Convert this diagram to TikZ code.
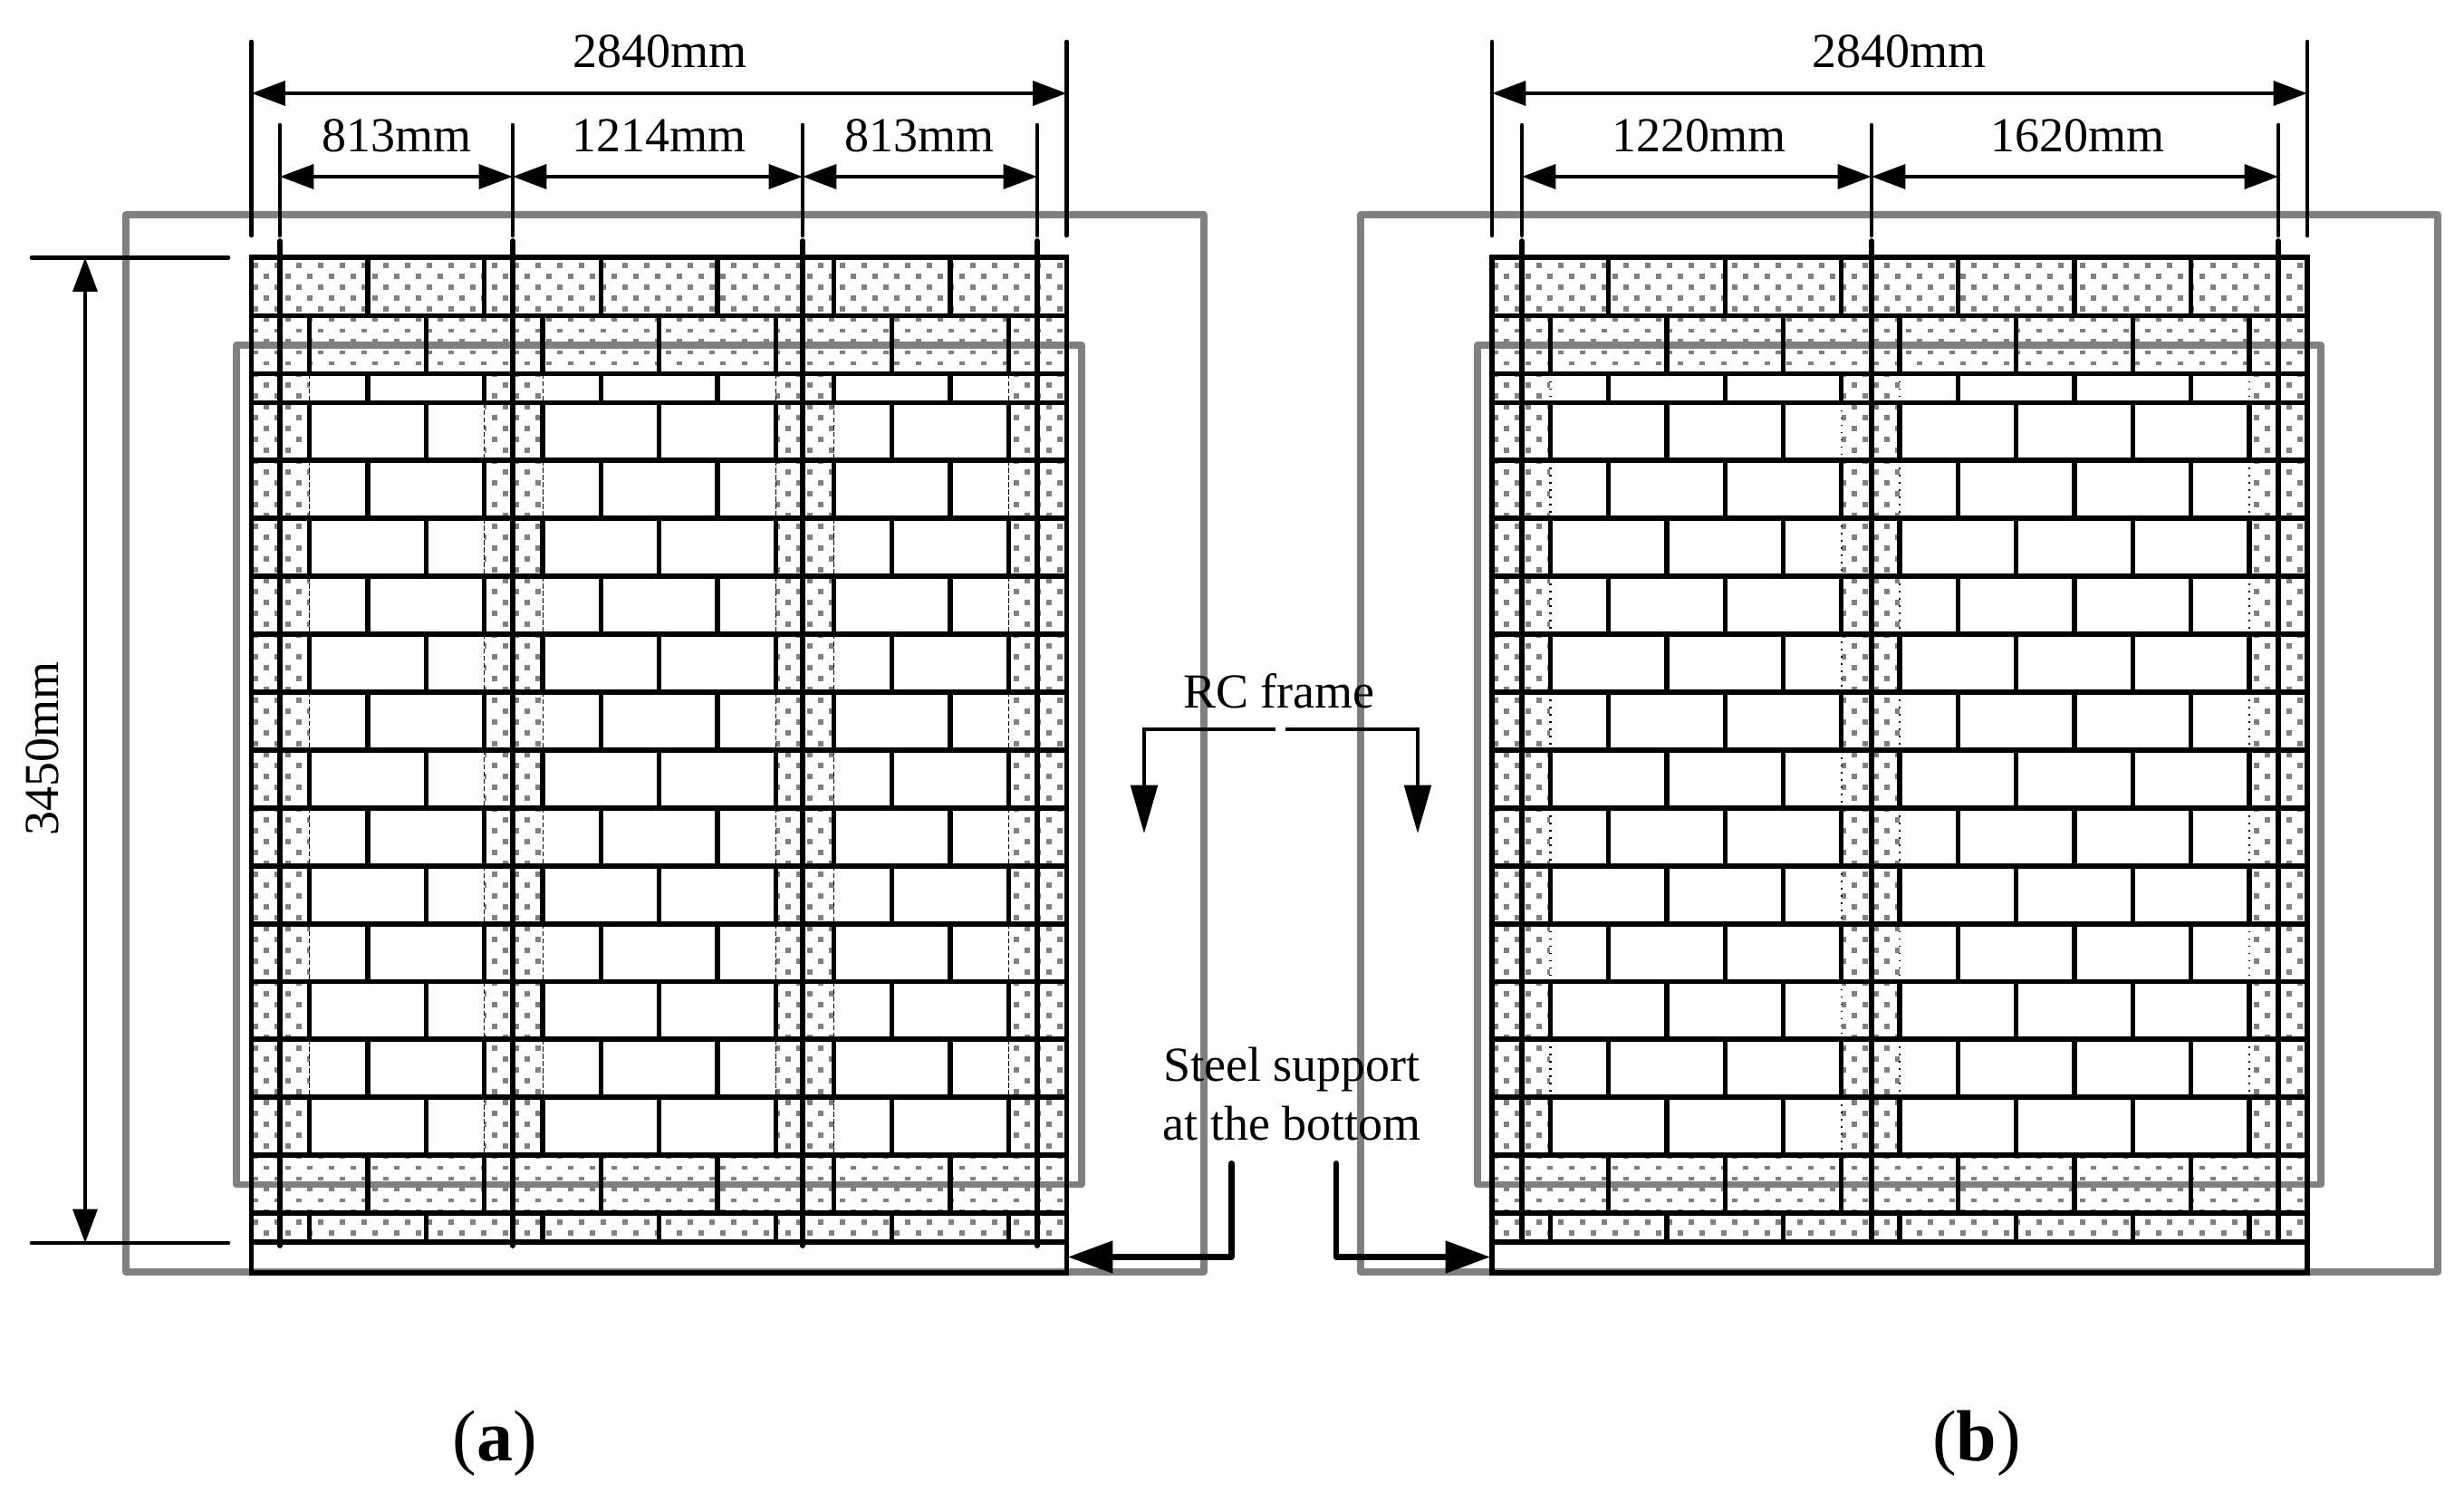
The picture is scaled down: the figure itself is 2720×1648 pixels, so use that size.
\documentclass[tikz,border=0pt]{standalone}
\usepackage{fontspec}
\setmainfont{Liberation Serif}
\usetikzlibrary{arrows.meta}

\definecolor{framegrey}{RGB}{128,128,128}
\newcommand{\jointsA}{128.6,257.2,385.8,514.4,643,771.6}
\newcommand{\jointsB}{64.3,192.9,321.5,450.1,578.7,707.3,835.9}

\tikzset{
  frameline/.style={color=framegrey,line width=5.5pt,line join=round},
  joint/.style={line width=4pt},
  course/.style={line width=4.4pt},
  rebar/.style={line width=4.4pt,line cap=round},
  extline/.style={line width=3.4pt,line cap=round},
  dimline/.style={line width=3.4pt,{Triangle[length=28pt,width=20pt]}-{Triangle[length=28pt,width=20pt]}},
  pointline/.style={line width=3.2pt,-{Triangle[length=40pt,width=22pt]}},
  supportline/.style={line width=4.6pt,line join=round,line cap=round,-{Triangle[length=37pt,width=26pt]}},
  dimlabel/.style={inner sep=0pt,align=center,font=\fontsize{40.5}{48.75}\selectfont},
  partlabel/.style={inner sep=0pt,font=\fontsize{60}{66}\selectfont},
  seamdash/.style={line width=0.7pt,dash pattern=on 4pt off 2pt},
  seamdots/.style={line width=1.8pt,dash pattern=on 1.4pt off 4.6pt}
}

% joints of one course
\newcommand{\jointrow}[4]{\foreach \jx in #4 {\draw[joint] (#1+\jx,#2) -- (#1+\jx,#3);}}
% seams without a joint
\newcommand{\seamrow}[5]{\foreach \jx in {#4} {\draw[#5] (#1+\jx,#2) -- (#1+\jx,#3);}}

% left edge, white panels, seams of A courses, seams of B courses, seam style
\newcommand{\brickwall}[5]{
  \begin{scope}
    \clip (#1,284.3) rectangle (#1+900,1371);
    \foreach \k in {0,...,91} {
      \pgfmathtruncatemacro{\oddrow}{mod(\k,2)}
      \pgfmathsetmacro{\doty}{293+12*\k}
      \pgfmathsetmacro{\doth}{(((\k>=5)&&(\k<=9)&&(\k!=7))||((\k>=82)&&(\k<=87))) ? 1.8 : 3}
      \foreach \m in {0,...,37} {
        \pgfmathsetmacro{\dotx}{#1+4+24*\m+12*\oddrow}
        \fill[framegrey] (\dotx-3,\doty-\doth) rectangle (\dotx+3,\doty+\doth);
      }
    }
  \end{scope}
  \foreach \pa/\pb in {#2} {\fill[white] (#1+\pa,412.5) rectangle (#1+\pb,1275.2);}
  \seamrow{#1}{412.5}{444.5}{#3}{#5}
  \foreach \i in {0,...,12} {
    \pgfmathsetmacro{\yt}{444.5+63.9*\i}
    \pgfmathsetmacro{\yb}{444.5+63.9*(\i+1)}
    \ifodd\i \seamrow{#1}{\yt}{\yb}{#3}{#5} \else \seamrow{#1}{\yt}{\yb}{#4}{#5} \fi
  }
  \jointrow{#1}{284.3}{348.5}{\jointsA}
  \jointrow{#1}{348.5}{412.5}{\jointsB}
  \jointrow{#1}{412.5}{444.5}{\jointsA}
  \foreach \i in {0,...,13} {
    \pgfmathsetmacro{\yt}{444.5+63.9*\i}
    \pgfmathsetmacro{\yb}{444.5+63.9*(\i+1)}
    \ifodd\i \jointrow{#1}{\yt}{\yb}{\jointsA} \else \jointrow{#1}{\yt}{\yb}{\jointsB} \fi
  }
  \jointrow{#1}{1339.1}{1371}{\jointsB}
  \foreach \yl in {348.5,412.5,444.5,508.4,572.3,636.2,700.1,764,827.9,891.8,955.7,1019.6,1083.5,1147.4,1211.3,1275.2,1339.1,1371} {
    \draw[course] (#1,\yl) -- (#1+900,\yl);
  }
  \draw[course,line join=miter] (#1,284.3) rectangle (#1+900,1404.7);
}

\begin{document}
\begin{tikzpicture}[x=0.75pt,y=0.75pt,yscale=-1,xscale=1]
\useasboundingbox (0,0) rectangle (2720,1648);

% outer frames
\draw[frameline] (277.5,237) -- (139,237) -- (139,1404) -- (1329,1404) -- (1329,237) -- cycle;
\draw[frameline] (1502,237) rectangle (2691,1404);

% walls
\brickwall{277.5}{64.3/257.2,321.5/578.7,643/835.9}{64.3,321.5,578.7,835.9}{257.2,643}{seamdash}
\brickwall{1647}{64.3/385.8,450.1/835.9}{64.3,450.1,835.9}{385.8}{seamdots}

% inner frames
\draw[frameline] (261,381) rectangle (1194,1307.5);
\draw[frameline] (1631,381) rectangle (2562,1307.5);

% courses back over the inner frames
\foreach \wx in {277.5,1647} {
  \draw[course] (\wx,412.5) -- (\wx,348.5) (\wx+900,412.5) -- (\wx+900,348.5);
  \draw[course] (\wx,1275.2) -- (\wx,1339.1) (\wx+900,1275.2) -- (\wx+900,1339.1);
  \jointrow{\wx}{348.5}{412.5}{\jointsB}
  \jointrow{\wx}{1275.2}{1339.1}{\jointsA}
}

% rebars and extension lines
\foreach \bx in {309,566,886,1145} {
  \draw[rebar] (\bx,266) -- (\bx,1375);
  \draw[extline] (\bx,138) -- (\bx,260);
}
\foreach \bx in {1680,2066,2515} {
  \draw[rebar] (\bx,266) -- (\bx,1370);
  \draw[extline] (\bx,138) -- (\bx,260);
}
\foreach \bx in {277.5,1177.5,1647,2547} {
  \draw[extline] (\bx,46) -- (\bx,260);
}
\draw[extline] (35,284.5) -- (252,284.5);
\draw[extline] (35,1372) -- (252,1372);

% dimension lines
\coordinate (aleft) at (277.5,103);
\coordinate (aright) at (1177.5,103);
\coordinate (bleft) at (1647,103);
\coordinate (bright) at (2547,103);
\coordinate (asta) at (309,195);
\coordinate (astb) at (566,195);
\coordinate (astc) at (886,195);
\coordinate (astd) at (1145,195);
\coordinate (bsta) at (1680,195);
\coordinate (bstb) at (2066,195);
\coordinate (bstc) at (2515,195);
\coordinate (htop) at (94,284.5);
\coordinate (hbot) at (94,1372);
\draw[dimline] (aleft) -- (aright);
\draw[dimline] (bleft) -- (bright);
\draw[dimline] (asta) -- (astb);
\draw[dimline] (astb) -- (astc);
\draw[dimline] (astc) -- (astd);
\draw[dimline] (bsta) -- (bstb);
\draw[dimline] (bstb) -- (bstc);
\draw[dimline] (htop) -- (hbot);

% pointers
\coordinate (rcleft) at (1408,805);
\coordinate (rcright) at (1419,805);
\coordinate (supleft) at (1359.5,1284);
\coordinate (supright) at (1475,1284);
\draw[pointline] (rcleft) -| (1263,920);
\draw[pointline] (rcright) -| (1565,920);
\draw[supportline] (supleft) |- (1179,1387.5);
\draw[supportline] (supright) |- (1645,1387.5);

% labels
\node[dimlabel] (widtha) at (728,57) {2840mm};
\node[dimlabel] (widthb) at (2096,57) {2840mm};
\node[dimlabel] (partaa) at (438,150) {813mm};
\node[dimlabel] (partab) at (727,150) {1214mm};
\node[dimlabel] (partac) at (1015,150) {813mm};
\node[dimlabel] (partba) at (1875,150) {1220mm};
\node[dimlabel] (partbb) at (2293,150) {1620mm};
\node[dimlabel,rotate=90] (height) at (47,826) {3450mm};
\node[dimlabel] (rcframe) at (1412,763) {RC frame};
\node[dimlabel] (support) at (1426,1208) {Steel support\\at the bottom};
\node[partlabel] (capa) at (546,1593) {(\textbf{a})};
\node[partlabel] (capb) at (2182,1593) {(\textbf{b})};
\end{tikzpicture}
\end{document}
